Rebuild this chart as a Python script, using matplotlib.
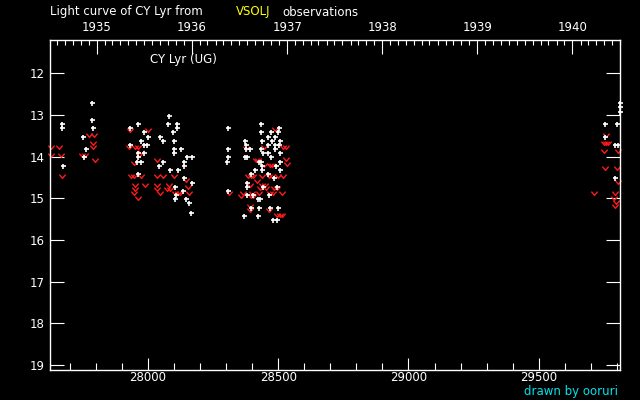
import datetime
import numpy as np
import matplotlib
matplotlib.use("Agg")
import matplotlib.pyplot as plt
from matplotlib.path import Path

# visual estimates (JD - 2400000, magnitude)
vis_jd = [27786, 27786, 27790, 27671, 27671, 27752, 27763, 27755, 27675,
          28082, 27963, 27932, 28078, 28113, 28113, 27986, 28097, 28001, 28047,
          27974, 28059, 28101, 27932, 27986, 27997, 28101, 28128, 28101, 27963,
          27986, 28151, 28170, 27963, 28059, 28139, 27974, 27959, 28043, 28139,
          28084, 28116, 27963, 28139, 28170, 28105, 28136, 28109, 28105, 28147,
          28159, 28166,
          28435, 28308, 28504, 28435, 28473, 28500, 28462, 28489, 28374, 28439,
          28477, 28508, 28377, 28462, 28489, 28504, 28308, 28377, 28393, 28435,
          28489, 28443, 28462, 28508, 28308, 28374, 28381, 28473, 28304, 28427,
          28435, 28508, 28439, 28491, 28412, 28439, 28508, 28397, 28462, 28485,
          28381, 28381, 28443, 28496, 28308, 28466, 28381, 28404, 28423, 28431,
          28397, 28427, 28470, 28500, 28370, 28423, 28481, 28496,
          29812, 29812, 29812, 29756, 29802, 29756, 29794, 29806, 29794]
vis_mag = [12.71, 13.12, 13.31, 13.22, 13.31, 13.53, 13.82, 14.01, 14.23,
           13.02, 13.22, 13.31, 13.22, 13.22, 13.31, 13.41, 13.41, 13.53, 13.53,
           13.63, 13.63, 13.63, 13.72, 13.72, 13.72, 13.82, 13.82, 13.92, 13.92,
           13.92, 14.01, 14.01, 14.01, 14.13, 14.13, 14.13, 14.13, 14.23, 14.23,
           14.33, 14.33, 14.42, 14.52, 14.64, 14.73, 14.83, 14.93, 15.02, 15.02,
           15.12, 15.34,
           13.22, 13.31, 13.31, 13.41, 13.41, 13.41, 13.53, 13.53, 13.63, 13.63,
           13.63, 13.63, 13.72, 13.72, 13.72, 13.72, 13.82, 13.82, 13.82, 13.82,
           13.82, 13.92, 13.92, 13.92, 14.01, 14.01, 14.01, 14.01, 14.13, 14.13,
           14.13, 14.13, 14.23, 14.23, 14.33, 14.33, 14.33, 14.42, 14.42, 14.52,
           14.64, 14.73, 14.73, 14.73, 14.83, 14.93, 14.93, 14.93, 15.02, 15.02,
           15.24, 15.24, 15.24, 15.24, 15.43, 15.43, 15.53, 15.53,
           12.71, 12.81, 12.93, 13.22, 13.22, 13.53, 13.72, 13.72, 14.52]

# fainter-than observations
fnt_jd = [27629, 27659, 27629, 27667, 27671, 27775, 27793, 27790, 27790,
          27745, 27758, 27798,
          27932, 28001, 27928, 27951, 27963, 27974, 27966, 27947, 28036, 27936,
          27947, 27974, 28036, 28059, 28101, 28147, 27951, 27990, 28036, 28082,
          28155, 27951, 28036, 28074, 28086, 27947, 28047, 28105, 28116, 28124,
          28159, 27963,
          28489, 28447, 28520, 28531, 28377, 28528, 28535, 28416, 28423, 28447,
          28470, 28477, 28385, 28397, 28404, 28439, 28466, 28477, 28500, 28520,
          28420, 28393, 28439, 28451, 28431, 28454, 28485, 28496, 28366, 28400,
          28427, 28470, 28481, 28516, 28312, 28358, 28397, 28404, 28393, 28393,
          28466, 28496, 28508, 28516,
          29760, 29752, 29760, 29767, 29752, 29806, 29756, 29802, 29806, 29712,
          29794, 29790, 29798, 29794]
fnt_mag = [13.76, 13.76, 13.96, 13.96, 14.46, 13.48, 13.48, 13.67, 13.77,
           13.96, 13.96, 14.08,
           13.35, 13.35, 13.76, 13.76, 13.76, 13.88, 13.96, 14.16, 14.08, 14.47,
           14.47, 14.47, 14.47, 14.47, 14.47, 14.57, 14.69, 14.69, 14.69, 14.69,
           14.73, 14.78, 14.78, 14.78, 14.78, 14.88, 14.88, 14.88, 14.88, 14.88,
           14.88, 14.98,
           13.34, 13.77, 13.77, 13.77, 13.80, 14.06, 14.18, 14.08, 14.08, 14.20,
           14.20, 14.20, 14.47, 14.47, 14.47, 14.47, 14.47, 14.47, 14.47, 14.47,
           14.59, 14.69, 14.69, 14.69, 14.76, 14.76, 14.76, 14.76, 14.88, 14.88,
           14.88, 14.88, 14.88, 14.88, 14.86, 14.95, 14.95, 14.95, 15.19, 15.27,
           15.27, 15.39, 15.39, 15.39,
           13.48, 13.67, 13.67, 13.67, 13.87, 13.87, 14.28, 14.28, 14.60, 14.88,
           14.88, 14.98, 15.08, 15.19]

years = [1935, 1936, 1937, 1938, 1939, 1940]
XMIN, XMAX = 27624, 29812
YMIN, YMAX = 11.2, 19.12


def jd_of(d):
    # JD - 2400000 at 0h UT
    return (d - datetime.date(1858, 11, 17)).days + 0.5


FG = "white"
FS = 8.5
fig = plt.figure(figsize=(6.4, 4.0), dpi=100, facecolor="black")
ax = fig.add_axes([50 / 640, 30 / 400, 570 / 640, 330 / 400], facecolor="black")

vmark = Path([(-1, 0.6), (0, -0.6), (1, 0.6)],
             [Path.MOVETO, Path.LINETO, Path.LINETO])
ax.plot(fnt_jd, fnt_mag, ls="none", marker=vmark, ms=4.5, mfc="none",
        mec="#ff1a1a", mew=1.0, clip_on=False)
ax.plot(vis_jd, vis_mag, ls="none", marker="+", ms=3.6, mec=FG, mew=1.2,
        clip_on=False)

ax.set_xlim(XMIN, XMAX)
ax.set_ylim(YMAX, YMIN)
for s in ax.spines.values():
    s.set_color(FG)
    s.set_linewidth(1.0)

ax.set_xticks(np.arange(28000, 30000, 500))
ax.set_xticks(np.arange(27700, 29900, 100), minor=True)
ax.set_yticks(np.arange(12, 20))
ax.tick_params(axis="x", which="major", direction="in", length=9, width=0.8,
               colors=FG, labelsize=FS, pad=1, top=False)
ax.tick_params(axis="x", which="minor", direction="in", length=5, width=0.8,
               colors=FG, top=False)
ax.tick_params(axis="y", which="major", direction="in", length=10, width=0.8,
               colors=FG, labelsize=FS, pad=4, right=True)

# calendar axis on top
top = ax.twiny()
top.set_xlim(XMIN, XMAX)
top.set_xticks([jd_of(datetime.date(y, 1, 1)) for y in years])
top.set_xticklabels([str(y) for y in years])
months = []
for y in range(1934, 1942):
    for m in range(1, 13):
        j = jd_of(datetime.date(y, m, 1))
        if XMIN < j < XMAX and m != 1:
            months.append(j)
top.set_xticks(months, minor=True)
top.tick_params(axis="x", which="major", direction="in", length=10, width=0.8,
                colors=FG, labelsize=FS, pad=4)
top.tick_params(axis="x", which="minor", direction="in", length=3.5, width=0.8,
                colors=FG)
for s in top.spines.values():
    s.set_visible(False)

fig.text(150 / 640, 1 - 60 / 400, "CY Lyr (UG)", color=FG, fontsize=FS,
         va="center")
fig.text(50 / 640, 1 - 12 / 400, "Light curve of CY Lyr from", color=FG,
         fontsize=FS, va="center")
fig.text(236 / 640, 1 - 12 / 400, "VSOLJ", color="#ffff00", fontsize=FS,
         va="center")
fig.text(282 / 640, 1 - 12 / 400, "observations", color=FG, fontsize=FS,
         va="center")
fig.text(618 / 640, 1 - 391 / 400, "drawn by ooruri", color="#00e5ee",
         fontsize=FS, va="center", ha="right")

fig.savefig("out.png", dpi=100, facecolor="black")
